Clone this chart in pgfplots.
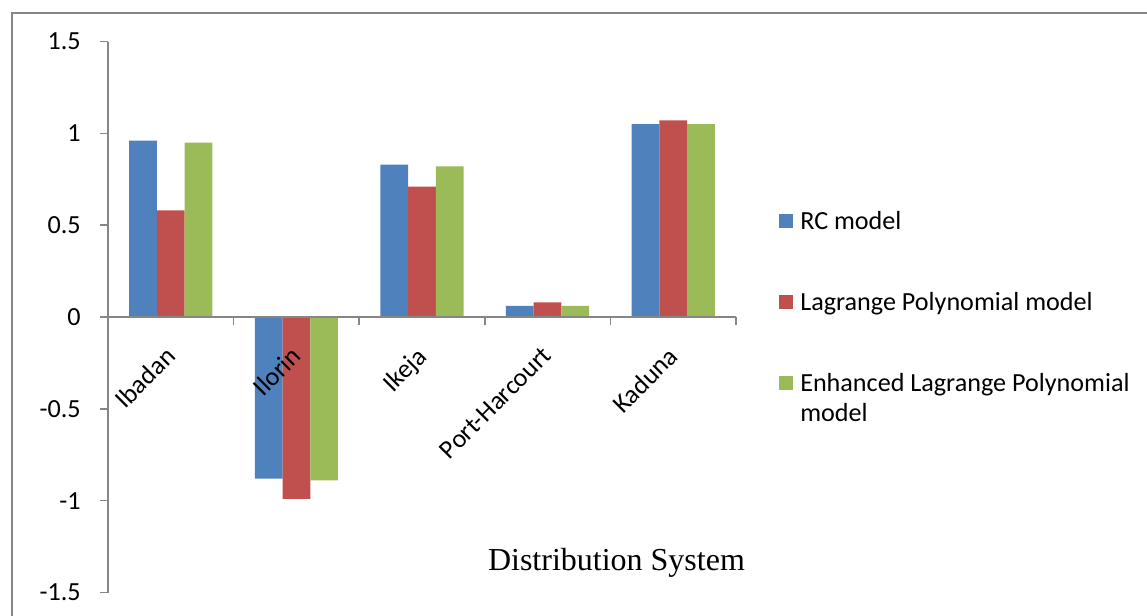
\documentclass[border=0pt]{standalone}
\usepackage{pgfplots}
\pgfplotsset{compat=1.18}
\usetikzlibrary{calc}
\usepackage{fontspec}
\setmainfont{Carlito}
\newfontfamily\titlefont{Liberation Serif}
\definecolor{rcblue}{HTML}{4F81BD}
\definecolor{lagred}{HTML}{C0504D}
\definecolor{enhgreen}{HTML}{9BBB59}
\definecolor{axisgray}{HTML}{868686}

\begin{document}
\begin{tikzpicture}[x=0.75pt,y=0.75pt]
\begin{axis}[
  scale only axis, width=471pt, height=413.25pt,
  xmin=-0.5, xmax=4.5, ymin=-1.5, ymax=1.5,
  axis on top,
  axis x line*=middle, axis y line*=left,
  axis line style={axisgray, line width=1.1pt},
  ybar=0pt, bar width=20.8pt,
  tick align=outside,
  major tick length=6pt, minor tick length=6pt,
  xtick={0,1,2,3,4},
  xticklabels={Ibadan,Ilorin,Ikeja,Port-Harcourt,Kaduna},
  minor xtick={0.5,1.5,2.5,3.5,4.5},
  major x tick style={draw=none},
  minor x tick style={draw=axisgray, line width=1.1pt},
  ytick={-1.5,-1,-0.5,0,0.5,1,1.5},
  yticklabels={-1.5,-1,-0.5,0,0.5,1,1.5},
  ytick style={axisgray, line width=1.1pt},
  ticklabel style={font=\fontsize{19.6}{23}\selectfont, text=black},
  xticklabel style={yshift=-15pt, xshift=-5pt, rotate=45, anchor=north east, inner sep=0pt},
  yticklabel style={anchor=east, inner sep=0pt, xshift=-14.25pt},
  xlabel={\titlefont\fontsize{24}{28}\selectfont Distribution System},
  xlabel style={at={(axis description cs:0.8097,0.0396)}, anchor=base},
  legend cell align=left,
  legend image code/.code={\fill[#1] (0pt,-5.25pt) rectangle (10.5pt,5.25pt);},
  legend style={at={(1.0685,0.6895)}, anchor=north west, draw=none, fill=none,
    inner sep=0pt, row sep=48.15pt, column sep=5.25pt,
    nodes={inner sep=0pt, text height=12.6pt, text depth=0pt,
      font=\fontsize{19.6}{22.5}\selectfont}},
  clip=false,
]
\addplot[fill=rcblue, draw=none] coordinates {(0,0.96) (1,-0.88) (2,0.83) (3,0.06) (4,1.05)};
\addlegendentry{RC model}
\addplot[fill=lagred, draw=none] coordinates {(0,0.58) (1,-0.99) (2,0.71) (3,0.08) (4,1.07)};
\addlegendentry{Lagrange Polynomial model}
\addplot[fill=enhgreen, draw=none] coordinates {(0,0.95) (1,-0.89) (2,0.82) (3,0.06) (4,1.05)};
\addlegendentry{\begin{tabular}[t]{@{}l@{}}Enhanced Lagrange Polynomial\\model\end{tabular}}
\coordinate (o) at (axis cs:-0.5,-1.5);
\end{axis}
% page extent and chart area frame, measured from the plot area's lower-left corner
\pgfresetboundingbox
\path[use as bounding box] ($(o)+(-108,-22.5)$) rectangle ($(o)+(1039,592.5)$);
\draw[axisgray, line width=1.5pt] ($(o)+(-96,-40)$) -- ($(o)+(-96,579.5)$) -- ($(o)+(1060,579.5)$);
\end{tikzpicture}
\end{document}
